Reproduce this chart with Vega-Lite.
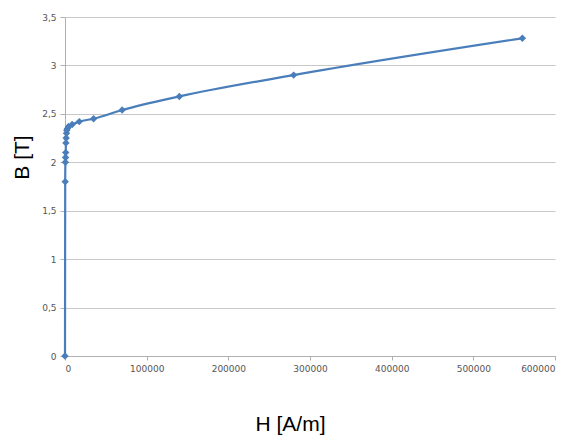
{
  "$schema": "https://vega.github.io/schema/vega-lite/v6.json",
  "width": 490,
  "height": 339,
  "autosize": "none",
  "padding": {"left": 65, "top": 17, "right": 25, "bottom": 85},
  "background": "white",
  "data": {"values": [
    {"H": 0, "B": 0},
    {"H": 250, "B": 1.8},
    {"H": 500, "B": 2.0},
    {"H": 700, "B": 2.05},
    {"H": 900, "B": 2.1},
    {"H": 1100, "B": 2.2},
    {"H": 1400, "B": 2.25},
    {"H": 1800, "B": 2.3},
    {"H": 2200, "B": 2.33},
    {"H": 3000, "B": 2.35},
    {"H": 4375, "B": 2.37},
    {"H": 8750, "B": 2.39},
    {"H": 17500, "B": 2.42},
    {"H": 35000, "B": 2.45},
    {"H": 70000, "B": 2.54},
    {"H": 140000, "B": 2.68},
    {"H": 280000, "B": 2.9},
    {"H": 560000, "B": 3.28}
  ]},
  "mark": {"type": "line", "interpolate": "monotone", "color": "#4a7ebb", "strokeWidth": 2.2,
    "point": {"shape": "diamond", "size": 55, "filled": true, "color": "#4a7ebb"}},
  "encoding": {
    "x": {"field": "H", "type": "quantitative",
      "scale": {"domain": [0, 600000], "nice": false},
      "axis": {"values": [0, 100000, 200000, 300000, 400000, 500000, 600000], "format": "d",
        "grid": false, "title": "H [A/m]", "titleFontSize": 21, "titleFont": "Liberation Sans", "titleFontWeight": "normal",
        "titlePadding": 40, "titleColor": "#000", "titleX": 225,
        "labelFontSize": 9, "labelColor": "#555", "labelFont": "DejaVu Sans", "labelPadding": 4,
        "domainColor": "#b0b0b0", "tickColor": "#b0b0b0", "tickSize": 4}},
    "y": {"field": "B", "type": "quantitative",
      "scale": {"domain": [0, 3.5], "nice": false},
      "axis": {"values": [0, 0.5, 1, 1.5, 2, 2.5, 3, 3.5],
        "labelExpr": "replace(format(datum.value, '~g'), '.', ',')",
        "gridColor": "#c8c8c8", "title": "B [T]", "titleFontSize": 21, "titleFont": "Liberation Sans", "titleFontWeight": "normal",
        "titlePadding": 9, "titleColor": "#000", "titleY": 140,
        "labelFontSize": 9, "labelColor": "#555", "labelFont": "DejaVu Sans", "labelPadding": 4,
        "domainColor": "#b0b0b0", "tickColor": "#b0b0b0", "tickSize": 5}}
  },
  "config": {"view": {"stroke": null}}
}
